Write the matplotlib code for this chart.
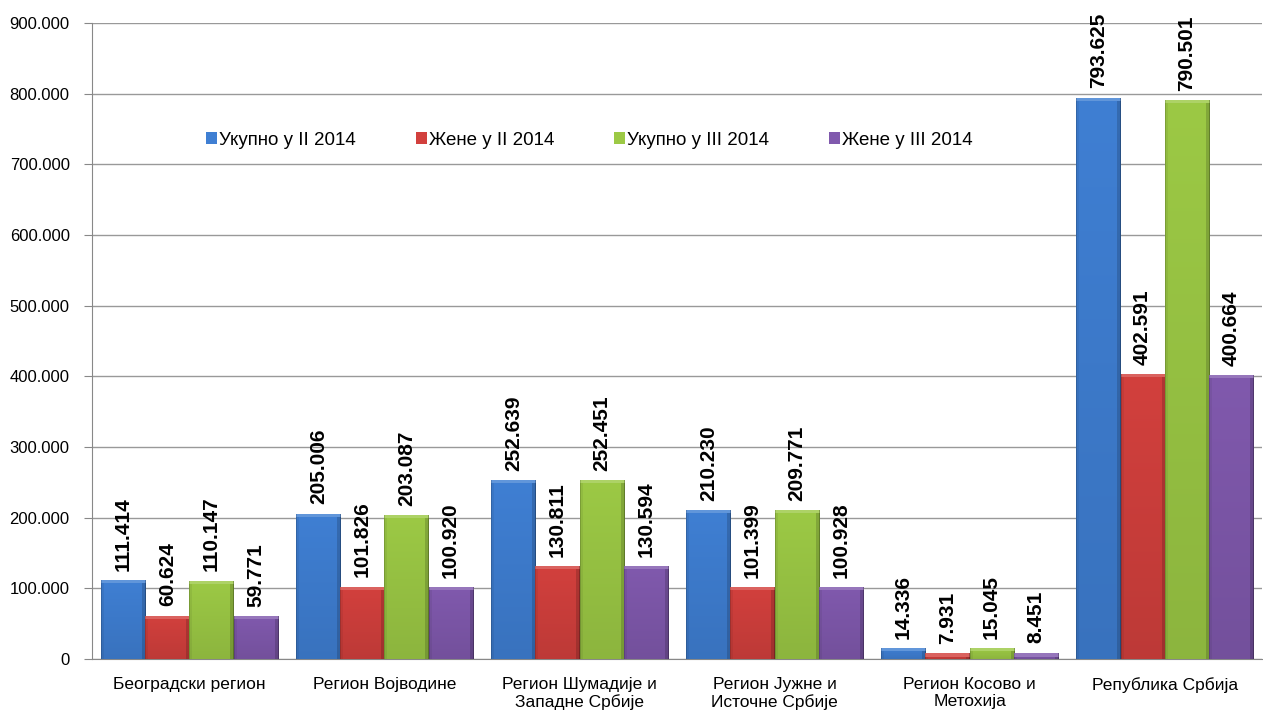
import numpy as np
import matplotlib as mpl
mpl.use('Agg')
from matplotlib import pyplot as plt
from matplotlib.ticker import FuncFormatter
from matplotlib.colors import to_rgb

plt.rcParams['font.family'] = ['Liberation Sans', 'DejaVu Sans']

regions = ['Београдски регион', 'Регион Војводине', 'Регион Шумадије и\nЗападне Србије',
           'Регион Јужне и\nИсточне Србије', 'Регион Косово и\nМетохија', 'Република Србија']
ukupno_ii = [111414, 205006, 252639, 210230, 14336, 793625]
zene_ii = [60624, 101826, 130811, 101399, 7931, 402591]
ukupno_iii = [110147, 203087, 252451, 209771, 15045, 790501]
zene_iii = [59771, 100920, 130594, 100928, 8451, 400664]
series_names = ['Укупно у II 2014', 'Жене у II 2014', 'Укупно у III 2014', 'Жене у III 2014']
colors = ['#3f7fd3', '#d2403d', '#9cc945', '#8059ad']
yticks = [0, 100000, 200000, 300000, 400000, 500000, 600000, 700000, 800000, 900000]


def dotted(v):
    return '{:,}'.format(int(v)).replace(',', '.')


def shade(ax, patch, color):
    # градиент с фаской, примерно как в Excel
    c = np.array(to_rgb(color))
    x0, w, h = patch.get_x(), patch.get_width(), patch.get_height()
    ppx = ax.transData.transform([(0, 0), (w, h)])
    cols = max(int(abs(ppx[1, 0] - ppx[0, 0])), 2)
    rows = max(int(abs(ppx[1, 1] - ppx[0, 1])), 2)
    xx = np.arange(cols)
    yy = np.arange(rows)
    f = np.ones((rows, cols))
    f *= (1.0 - 0.10 * (yy / max(rows - 1, 1)))[:, None]
    f[:, xx < 3] *= 0.94
    f[:, xx >= cols - 4] *= 0.84
    img = np.clip(c[None, None, :] * f[:, :, None], 0, 1)
    top = min(3, rows)
    img[:top, :, :] = np.clip(c + (1 - c) * 0.18, 0, 1)
    img[:, 0, :] = img[:, 0, :] * 0.85
    img[:, -1, :] = img[:, -1, :] * 0.75
    ax.imshow(img, extent=[x0, x0 + w, 0, h], aspect='auto', zorder=3,
              interpolation='nearest', origin='upper')


fig = plt.figure(figsize=(12.63, 7.11), dpi=100)
ax = fig.add_axes([0.0728, 0.0731, 0.9265, 0.8946])
ax.set_xlim(-0.5, len(regions) - 0.5)
ax.set_ylim(0, 900000)

x = np.arange(len(regions))
w = 0.226
all_series = [ukupno_ii, zene_ii, ukupno_iii, zene_iii]
handles = []
for i, (vals, name, col) in enumerate(zip(all_series, series_names, colors)):
    bars = ax.bar(x + (i - 1.5) * w, vals, w, color=col, label=name, zorder=2)
    handles.append(bars)
    for p, v in zip(bars, vals):
        shade(ax, p, col)
        ax.annotate(dotted(v), (p.get_x() + p.get_width() / 2, v), xytext=(0, 7),
                    textcoords='offset points', rotation=90, ha='center', va='bottom',
                    fontsize=15, fontweight='bold', zorder=5)

ax.set_xlim(-0.5, len(regions) - 0.5)
ax.set_ylim(0, 900000)
ax.set_yticks(yticks)
ax.yaxis.set_major_formatter(FuncFormatter(lambda v, p: dotted(v)))
ax.set_xticks(x)
ax.set_xticklabels(regions, fontsize=12.5, linespacing=1.15)
ax.tick_params(axis='y', labelsize=12, length=6, color='#888888', pad=10)
ax.tick_params(axis='x', length=0, pad=13)
ax.grid(axis='y', color='#999999', linewidth=1, zorder=0)
ax.set_axisbelow(True)
for s in ['top', 'right']:
    ax.spines[s].set_visible(False)
ax.spines['left'].set_color('#888888')
ax.spines['bottom'].set_color('#888888')

ax.legend(handles=handles, loc='center', bbox_to_anchor=(0.425, 0.816), ncol=4,
          frameon=False, fontsize=13.5, handlelength=0.6, handleheight=0.6,
          handletextpad=0.1, columnspacing=3.2)

fig.savefig('out.png', dpi=100)
